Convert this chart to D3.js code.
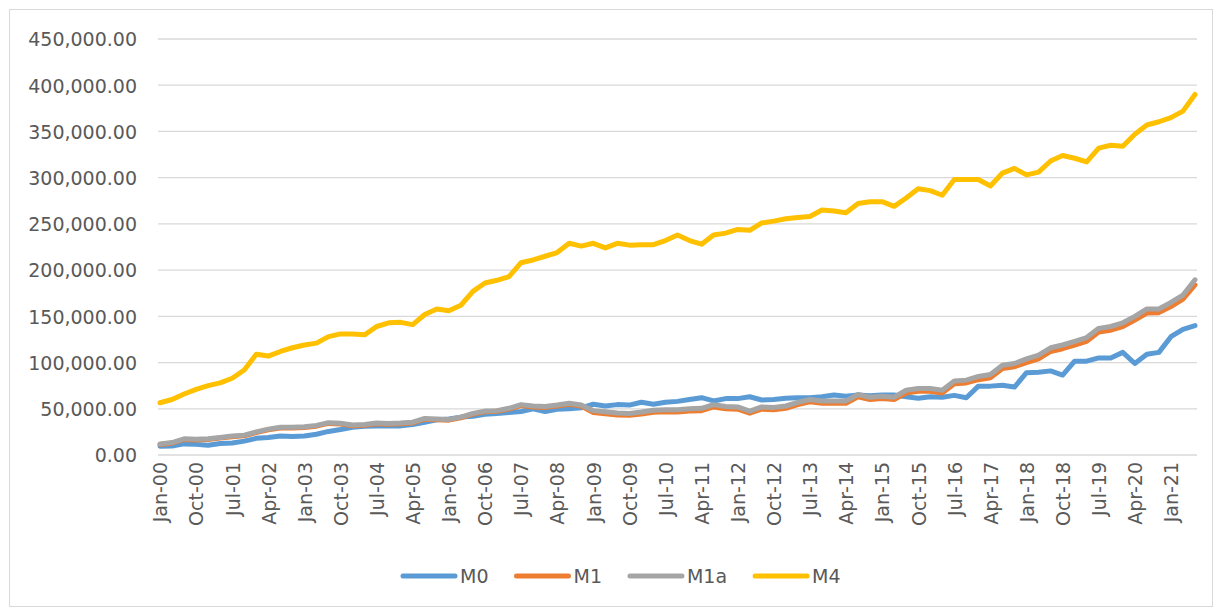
<!DOCTYPE html>
<html lang="en">
<head>
  <meta charset="UTF-8" />
  <title>M0 M1 M1a M4</title>
  <script src="https://d3js.org/d3.v7.min.js"></script>
  <style>
    body { margin: 0; background: #fff; }
    svg { display: block; }
    text { font-family: "DejaVu Sans", sans-serif; fill: #595959; }
    .grid line { stroke: #d9d9d9; stroke-width: 1.3px; }
    .series { fill: none; stroke-width: 5px; stroke-linejoin: round; stroke-linecap: round; }
  </style>
</head>
<body>
  <svg width="1215" height="609"></svg>

  <script>
    // monthly categories Jan-00 .. Jul-21, values read quarterly (thousands)
    const fmtMonth = d3.timeFormat("%b-%y");
    const months = d3.timeMonth.range(new Date(2000, 0, 1), new Date(2021, 7, 1)).map(fmtMonth);
    const quarters = months.filter((m, i) => i % 3 === 0);

    const m0 = [9.5, 9.8, 12, 11.5, 10.5, 12.5, 13, 15, 18, 19,
      20.5, 20, 20.5, 22.5, 25.5, 27.5, 30, 31, 31.5, 31.5,
      31.5, 33, 35.5, 38, 39, 41, 42, 44, 45, 46,
      47, 50, 47, 49.5, 50, 51, 55, 53, 54.5, 54,
      57, 55, 57, 58, 60, 62, 58.5, 61, 61, 63,
      59.5, 60, 61.5, 62, 62, 63, 65, 63.5, 65, 64,
      65, 65, 63, 61.5, 63, 62.5, 64.5, 62, 74.5, 74.5,
      75.5, 73.5, 89, 89.5, 91, 86.5, 101.5, 101.5, 105, 105,
      111, 99, 109, 111, 128, 136, 140];
    const m1 = [11.3, 12.8, 16.8, 16.3, 16.8, 18.3, 19.8, 20.7, 24.2, 27.2,
      29.2, 29.2, 29.7, 31.2, 34.2, 33.5, 31.7, 32.2, 33.7, 33.2,
      33.7, 34.7, 38.7, 38.2, 37.7, 40.2, 44.2, 46.7, 47.2, 49.7,
      53.5, 52, 51.5, 53, 55, 53, 46, 44.5, 43.3, 43,
      44.3, 46.2, 46.7, 46.6, 47.5, 48, 52, 50, 49.5, 45.2,
      49.5, 49, 50.5, 54.5, 57.5, 56, 56, 56, 63, 60,
      61, 60, 67, 69, 69, 67, 77, 78, 81.5, 83.5,
      93.5, 95.5, 100, 104, 112, 115, 119, 123, 133, 135,
      139, 146, 153.5, 154, 160.5, 168.5, 184];
    const m1a = [12, 13.5, 17.5, 17, 17.5, 19, 20.5, 21.5, 25, 28,
      30, 30, 30.5, 32, 35, 34.3, 32.5, 33, 34.5, 34,
      34.5, 35.5, 39.5, 39, 38.5, 41, 45, 47.5, 48, 50.5,
      54.5, 53, 52.5, 54, 56, 54, 48, 46.8, 45.5, 45,
      46.5, 48.5, 49, 49, 50, 50.5, 54.5, 52.5, 52, 47.5,
      52, 51.5, 53, 57, 60, 58.5, 58.5, 58.5, 65.5, 62.5,
      63.5, 62.5, 70, 72, 72, 70, 80, 81, 85, 87,
      97, 99, 104, 108, 116, 119, 123, 127, 137, 139,
      143, 150, 158, 158, 165, 173, 189.5];
    const m4 = [56.5, 60, 66, 71, 75, 78, 83, 92, 109, 107,
      112, 116, 119, 121, 128, 131, 131, 130, 139, 143,
      143.5, 141, 152, 158, 156, 162, 177, 186, 189, 193,
      208, 211, 215, 219, 229, 226, 229, 224, 229, 227,
      227.5, 227.5, 232, 238, 232, 228, 238, 240, 244, 243,
      251, 253, 255.5, 257, 258, 265, 264, 262, 272, 274,
      274, 269, 278, 288, 286, 281, 298, 298, 298, 291,
      305, 310, 303, 306, 318, 324, 321, 317, 332, 335,
      334, 347, 357, 360.5, 365, 372, 390];

    const seriesNames = ["M0", "M1", "M1a", "M4"];
    const seriesValues = [m0, m1, m1a, m4];
    const colors = ["#5b9bd5", "#ed7d31", "#a5a5a5", "#ffc000"];
    const yTicks = d3.range(0, 450001, 50000);
    const tickEvery = 9;

    const svg = d3.select("svg");

    svg.append("rect")
      .attr("x", 9.5).attr("y", 9.5)
      .attr("width", 1203).attr("height", 597)
      .attr("fill", "#fff").attr("stroke", "#d9d9d9");

    const x = d3.scalePoint().domain(months).range([158, 1197]).padding(0.5);
    const y = d3.scaleLinear().domain([0, 450000]).range([455, 39]);

    // gridlines
    svg.append("g").attr("class", "grid")
      .selectAll("line")
      .data(yTicks)
      .join("line")
      .attr("x1", 158).attr("x2", 1197)
      .attr("y1", d => y(d)).attr("y2", d => y(d));

    // y labels
    const yAxis = svg.append("g")
      .attr("transform", "translate(137,0)")
      .call(d3.axisLeft(y).tickValues(yTicks).tickFormat(d3.format(",.2f")).tickSize(0).tickPadding(0));
    yAxis.select(".domain").remove();
    yAxis.selectAll("text").style("font-size", "19px").attr("fill", "#595959")
      .style("font-family", "'DejaVu Sans', sans-serif").attr("dy", "0.36em");

    // x labels (rotated, every 9 months)
    const xAxis = svg.append("g")
      .attr("transform", "translate(0,455)")
      .call(d3.axisBottom(x).tickValues(months.filter((m, i) => i % tickEvery === 0)).tickSize(0).tickPadding(0));
    xAxis.select(".domain").remove();
    xAxis.selectAll("text")
      .style("font-size", "19px").attr("fill", "#595959")
      .style("font-family", "'DejaVu Sans', sans-serif")
      .attr("text-anchor", "end")
      .attr("transform", "rotate(-90)")
      .attr("x", -7).attr("y", 0).attr("dy", "0.36em");

    // series
    const line = d3.line()
      .x(d => x(d.month))
      .y(d => y(d.value * 1000));

    seriesValues.forEach((vals, s) => {
      const pts = vals.map((v, i) => ({ month: quarters[i], value: v }));
      svg.append("path")
        .datum(pts)
        .attr("class", "series")
        .attr("stroke", colors[s])
        .attr("d", line);
    });

    // legend
    const legend = svg.append("g").attr("transform", "translate(0,576)");
    let lx = 403;
    seriesNames.forEach((name, s) => {
      const g = legend.append("g").attr("transform", `translate(${lx},0)`);
      g.append("line")
        .attr("x1", 0).attr("x2", 52).attr("y1", 0).attr("y2", 0)
        .attr("stroke", colors[s]).attr("stroke-width", 5).attr("stroke-linecap", "round");
      const t = g.append("text")
        .attr("x", 57).attr("dy", "0.36em")
        .style("font-size", "19px")
        .text(name);
      lx += 57 + t.node().getComputedTextLength() + 28;
    });
  </script>
</body>
</html>
